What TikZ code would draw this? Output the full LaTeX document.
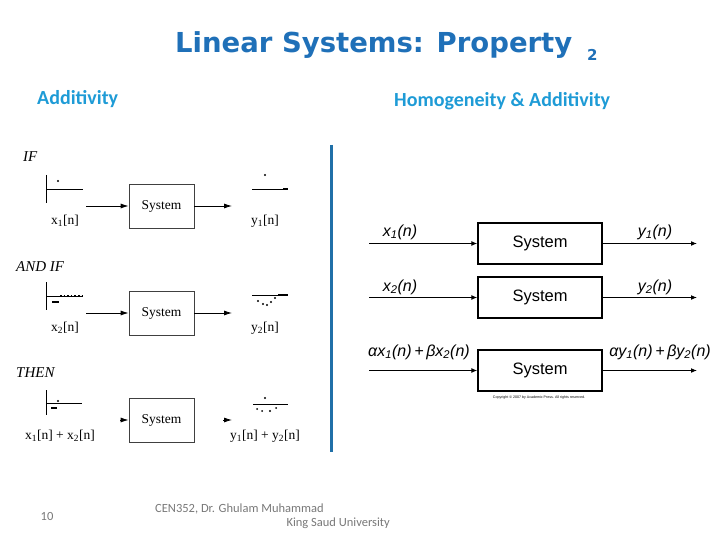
\documentclass[tikz,border=0pt]{standalone}
\usepackage{fontspec}
\setmainfont{Liberation Serif}
\setsansfont{Liberation Sans}
\newfontfamily\titlefont{DejaVu Sans}
\newfontfamily\headfont{Carlito}
\usetikzlibrary{arrows.meta}

\definecolor{titleblue}{RGB}{31,112,184}
\definecolor{headblue}{RGB}{30,155,214}
\definecolor{vline}{RGB}{32,112,168}
\definecolor{footgray}{RGB}{120,120,120}

\tikzset{
  sysbox/.style={draw=black!75, line width=0.8pt, minimum width=65pt, minimum height=44pt, inner sep=0pt, font=\fontsize{13.5}{13.5}\selectfont},
  sysboxr/.style={draw, line width=1.4pt, minimum width=124pt, minimum height=41pt, inner sep=0pt, font=\sffamily\fontsize{16.5}{16.5}\selectfont},
  sig/.style={line width=0.7pt},
  flow/.style={-{Latex[length=8pt,width=5pt]}, line width=0.8pt},
  flowr/.style={-{Latex[length=6pt,width=5pt]}, line width=1.4pt},
  leftlbl/.style={font=\fontsize{13.5}{13.5}\selectfont, inner sep=0pt},
  rightlbl/.style={font=\sffamily\itshape\fontsize{16}{16}\selectfont, inner sep=0pt},
  cue/.style={font=\itshape\fontsize{15}{15}\selectfont, anchor=base west, inner sep=0pt},
  head/.style={font=\headfont\bfseries\fontsize{20}{20}\selectfont, text=headblue, inner sep=0pt},
  foot/.style={font=\headfont\fontsize{12.5}{12.5}\selectfont, text=footgray, inner sep=0pt},
}

\begin{document}
\begin{tikzpicture}[x=1pt,y=-1pt]
   \useasboundingbox (0,0) rectangle (720,540);

   % title and headings
   \node[font=\titlefont\bfseries\fontsize{27.5}{27.5}\selectfont, text=titleblue, anchor=base west, inner sep=0pt] (title) at (175,53) {Linear Systems: Property};
   \node[font=\titlefont\bfseries\fontsize{15}{15}\selectfont, text=titleblue, anchor=base west, inner sep=0pt] (titlenum) at (587,61) {2};
   \node[head, anchor=base west] (addhead) at (37,105) {Additivity};
   \node[head, anchor=base west] (homhead) at (394,107) {Homogeneity \& Additivity};

   \draw[color=vline, line width=3pt] (331,145) -- (331,452);

   % left: additivity
   \node[cue] (cueif) at (23,162) {IF};
   \node[cue] (cueand) at (16,271) {AND IF};
   \node[cue] (cuethen) at (16,377) {THEN};

   \node[sysbox] (bl1) at (161.5,206) {System};
   \node[sysbox] (bl2) at (161.5,313) {System};
   \node[sysbox] (bl3) at (161.5,420) {System};

   \coordinate (in1) at (86,206);
   \coordinate (out1) at (232,206);
   \coordinate (in2) at (86,313);
   \coordinate (out2) at (232,313);
   \coordinate (in3) at (120,420);
   \coordinate (o3s) at (223,420);
   \coordinate (out3) at (232,420);

   \draw[flow] (in1) -- (bl1);
   \draw[flow] (bl1) -- (out1);
   \draw[flow] (in2) -- (bl2);
   \draw[flow] (bl2) -- (out2);
   \draw[flow] (in3) -- (bl3);
   \draw[flow] (o3s) -- (out3);

   \node[leftlbl] (lx1) at (65,221) {x\textsubscript{1}[n]};
   \node[leftlbl] (ly1) at (265,221) {y\textsubscript{1}[n]};
   \node[leftlbl] (lx2) at (65,328) {x\textsubscript{2}[n]};
   \node[leftlbl] (ly2) at (265,328) {y\textsubscript{2}[n]};
   \node[leftlbl] (lx3) at (60,436) {x\textsubscript{1}[n] + x\textsubscript{2}[n]};
   \node[leftlbl] (ly3) at (265,436) {y\textsubscript{1}[n] + y\textsubscript{2}[n]};

   % little signal sketches
   \draw[sig] (46,175) -- (46,203);
   \draw[sig] (46,189) -- (83,189);
   \fill (58,181) circle (1.2);
   \draw[sig] (252,189) -- (288,189);
   \draw[line width=1.6pt] (283,189) -- (288,189);
   \fill (265,175) circle (1.2);

   \draw[sig] (46,282) -- (46,310);
   \draw[sig] (46,296) -- (83,296);
   \draw[line width=1.6pt, dotted] (60,296) -- (82,296);
   \draw[line width=2.2pt] (52,302) -- (59,302);
   \draw[sig] (252,295) -- (288,295);
   \draw[line width=1.6pt] (278,295) -- (288,295);
   \fill (258,301) circle (1.1);
   \fill (263,304) circle (1.1);
   \fill (267,305) circle (1.2);
   \fill (271,302) circle (1.1);
   \fill (275,298) circle (1.1);

   \draw[sig] (46,390) -- (46,415);
   \draw[sig] (46,403) -- (82,403);
   \fill (58,401) circle (1.2);
   \draw[line width=2pt] (51,408) -- (57,408);
   \draw[sig] (253,404) -- (288,404);
   \fill (265,398) circle (1.2);
   \fill (257,409) circle (1);
   \fill (262,411) circle (1);
   \fill (270,411) circle (1.2);
   \fill (276,408) circle (1);

   % right: homogeneity and additivity
   \node[sysboxr] (br1) at (540,243.5) {System};
   \node[sysboxr] (br2) at (540,297.5) {System};
   \node[sysboxr] (br3) at (540,370.5) {System};

   \coordinate (rin1) at (369,243.5);
   \coordinate (rout1) at (697,243.5);
   \coordinate (rin2) at (369,297.5);
   \coordinate (rout2) at (697,297.5);
   \coordinate (rin3) at (369,370.5);
   \coordinate (rout3) at (697,370.5);

   \draw[flowr] (rin1) -- (br1);
   \draw[flowr] (br1) -- (rout1);
   \draw[flowr] (rin2) -- (br2);
   \draw[flowr] (br2) -- (rout2);
   \draw[flowr] (rin3) -- (br3);
   \draw[flowr] (br3) -- (rout3);

   \node[rightlbl] (rx1) at (400,232) {x\textsubscript{1}(n)};
   \node[rightlbl] (ry1) at (655,232) {y\textsubscript{1}(n)};
   \node[rightlbl] (rx2) at (400,287) {x\textsubscript{2}(n)};
   \node[rightlbl] (ry2) at (655,287) {y\textsubscript{2}(n)};
   \node[rightlbl] (rx3) at (419,352) {αx\textsubscript{1}(n)\,+\,βx\textsubscript{2}(n)};
   \node[rightlbl] (ry3) at (660,352) {αy\textsubscript{1}(n)\,+\,βy\textsubscript{2}(n)};
   \node[font=\sffamily\fontsize{3.6}{3.6}\selectfont, inner sep=0pt] (copy) at (539,398) {Copyright © 2007 by Academic Press. All rights reserved.};

   % footer
   \node[foot] (pagenum) at (47,516) {10};
   \node[foot, anchor=base west] (foot1) at (155,512) {CEN352, Dr. Ghulam Muhammad};
   \node[foot, anchor=base east] (foot2) at (390,526) {King Saud University};
\end{tikzpicture}
\end{document}
